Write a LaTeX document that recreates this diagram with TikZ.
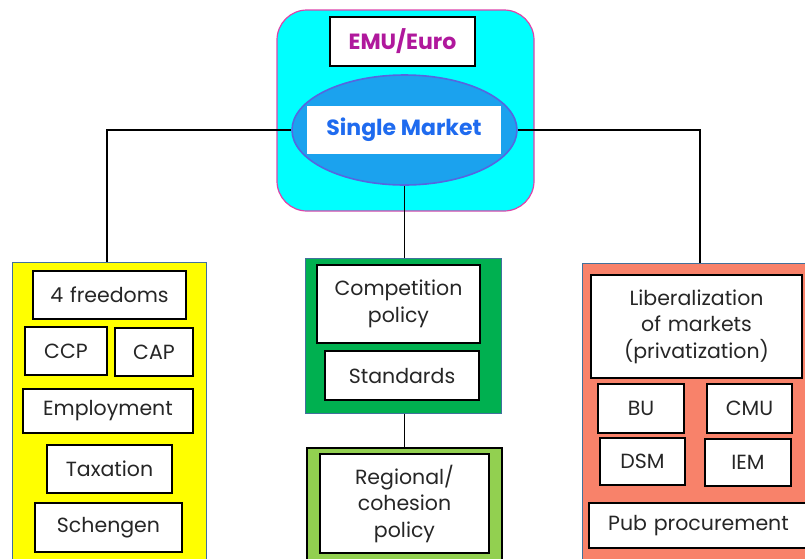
\documentclass[tikz,border=0pt]{standalone}
\usepackage{fontspec}
\setmainfont{Poppins}
\usetikzlibrary{shapes.geometric}

\definecolor{cyanbg}{HTML}{00FFFF}
\definecolor{magline}{HTML}{DD44AA}
\definecolor{emutext}{HTML}{B0189C}
\definecolor{ellfill}{HTML}{1BA2EE}
\definecolor{elldraw}{HTML}{5566E0}
\definecolor{smtext}{HTML}{1F6BEF}
\definecolor{panelline}{HTML}{41719C}
\definecolor{yellowbg}{HTML}{FFFF00}
\definecolor{greenbg}{HTML}{00B050}
\definecolor{lightgreenbg}{HTML}{92D050}
\definecolor{salmonbg}{HTML}{F8826A}

\tikzset{
  panel/.style={draw=panelline, line width=1pt},
  item/.style={draw=black, line width=1.6pt, fill=white, align=center,
    font=\fontsize{20.5}{26.5}\selectfont, text=black!85, inner sep=0pt},
  link/.style={draw=black, line width=1.2pt},
}

% box from two corners: #1 name, (x1,y1) (x2,y2)
\newcommand{\boxat}[6]{%
  \node[item, minimum width=#4-#2 pt, minimum height=#5-#3 pt,
        text width=#4-#2 pt] (#1) at ({(#2+#4)/2},{(#3+#5)/2}) {#6};}

\begin{document}
\begin{tikzpicture}[x=1pt, y=-1pt]
\useasboundingbox (0,0) rectangle (805,558);
\clip (0,0) rectangle (805,558);

% central group
\node[draw=magline, line width=1.2pt, fill=cyanbg, rounded corners=30pt,
      minimum width=257pt, minimum height=201pt, inner sep=0pt] (top) at (405.5,110.5) {};
\node[draw=black, line width=1.6pt, fill=white, minimum width=145pt, minimum height=49pt,
      inner sep=0pt, text=emutext, font=\bfseries\fontsize{22}{24}\selectfont] (emu) at (402.5,41.5) {EMU/Euro};
\node[ellipse, draw=elldraw, line width=1.6pt, fill=ellfill, minimum width=225pt,
      minimum height=110pt, inner sep=0pt] (sm) at (404.5,130) {};
\node[fill=white, minimum width=194pt, minimum height=48pt, inner sep=0pt, text=smtext,
      font=\bfseries\fontsize{22}{24}\selectfont] (smlabel) at (404,130) {Single Market};

% three panels
\node[panel, fill=yellowbg, minimum width=194pt, minimum height=320pt, inner sep=0pt] (left) at (109,422) {};
\node[panel, fill=greenbg, minimum width=196pt, minimum height=155pt, inner sep=0pt] (mid) at (403,335.5) {};
\node[draw=black, line width=1.6pt, fill=lightgreenbg, minimum width=195pt, minimum height=140pt, inner sep=0pt] (reg) at (404.5,518) {};
\node[panel, fill=salmonbg, minimum width=260pt, minimum height=320pt, inner sep=0pt] (right) at (712,423) {};

% connectors
\coordinate (lc) at (107,121);
\coordinate (rc) at (700,121);
\draw[link] (sm.west) -- (sm.west -| lc) -- (left.north -| lc);
\draw[link] (sm.east) -- (sm.east -| rc) -- (right.north -| rc);
\draw[link] (sm.south) -- (sm.south |- mid.north);
\draw[link] (mid.south -| sm.south) -- (reg.north -| sm.south);

% yellow panel items
\boxat{fourf}{33}{271}{186}{319}{4 freedoms}
\boxat{ccp}{25}{327}{107}{375}{CCP}
\boxat{cap}{115}{328}{193}{376}{CAP}
\boxat{empl}{23}{389}{193}{433}{Employment}
\boxat{tax}{47}{445}{172}{493}{Taxation}
\boxat{schengen}{35}{503}{182}{552}{Schengen}

% green panel items
\boxat{comp}{317}{265}{480}{343}{Competition\\policy}
\boxat{std}{325}{351}{479}{400}{Standards}
\boxat{regional}{320}{454}{489}{553}{Regional/\\cohesion\\policy}

% salmon panel items
\boxat{lib}{591}{275}{802}{378}{Liberalization\\of markets\\(privatization)}
\boxat{bu}{598}{384}{684}{433}{BU}
\boxat{cmu}{707}{384}{792}{433}{CMU}
\boxat{dsm}{600}{438}{685}{485}{DSM}
\boxat{iem}{705}{439}{791}{486}{IEM}
\boxat{pub}{589}{503}{808}{548}{Pub procurement}
\end{tikzpicture}
\end{document}
